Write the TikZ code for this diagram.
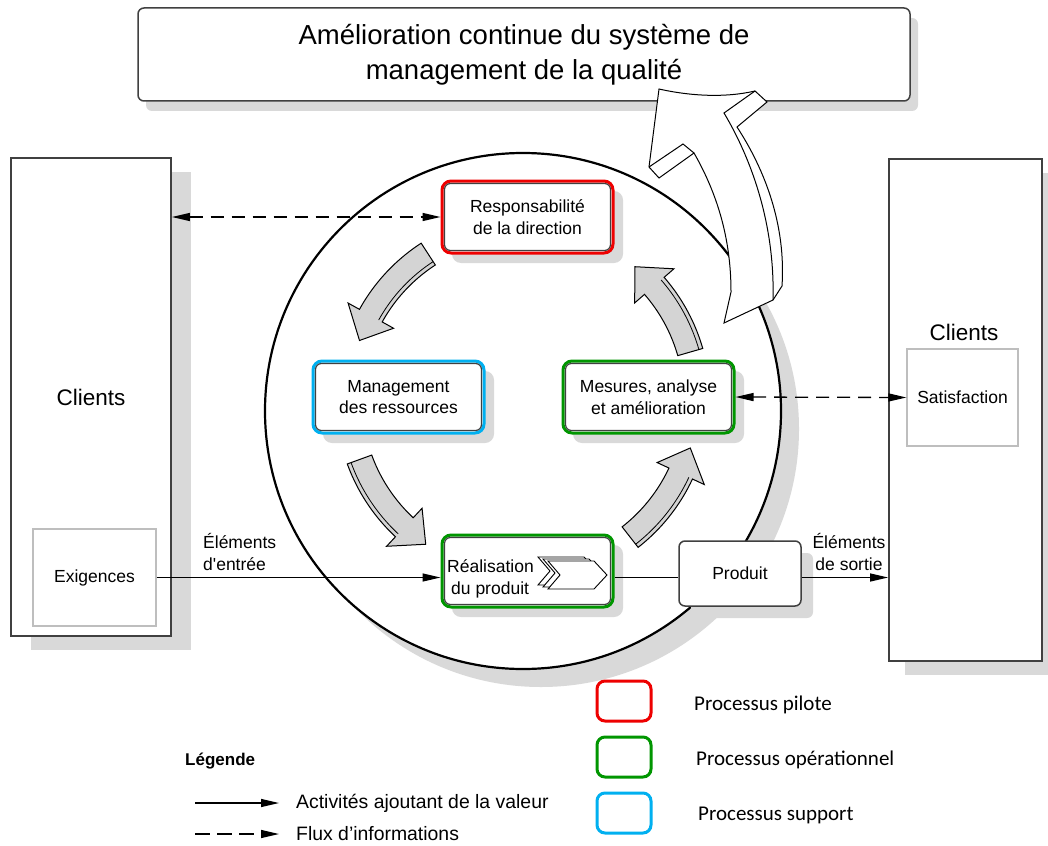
\documentclass[tikz,border=0pt]{standalone}
\usepackage{fontspec}
\setmainfont{Liberation Sans}
\newfontfamily\calfont{Carlito}
\usetikzlibrary{arrows.meta,shadows,calc}
\definecolor{shadowgray}{RGB}{217,217,217}
\definecolor{arrgray}{RGB}{212,212,212}
\definecolor{pred}{RGB}{238,0,0}
\definecolor{pgreen}{RGB}{0,150,0}
\definecolor{pblue}{RGB}{0,176,240}
\definecolor{boxline}{RGB}{64,64,64}
\definecolor{lightline}{RGB}{190,190,190}
\def\ccx{523}\def\ccy{400}
\newcommand\rotarrow[3]{%
  \pgfmathsetmacro\hb{#2-9}%
  \draw[rotarr] plot[domain=#1:\hb,samples=20] ({\ccx+187*cos(\x)},{\ccy-187*sin(\x)})
    -- ({\ccx+200*cos(\hb)},{\ccy-200*sin(\hb)})
    -- ({\ccx+174*cos(#2)},{\ccy-174*sin(#2)})
    -- ({\ccx+148*cos(\hb)},{\ccy-148*sin(\hb)})
    -- plot[domain=#1:\hb,samples=20] ({\ccx+161*cos(#1+\hb-\x)},{\ccy-161*sin(#1+\hb-\x)})
    -- cycle;
  \draw[line width=0.8pt] plot[domain=#1:\hb,samples=20] ({\ccx+#3*cos(\x)},{\ccy-#3*sin(\x)});
}
\begin{document}
\begin{tikzpicture}[x=1pt,y=-1pt,
  nodefont/.style={font=\fontsize{17.5}{21.5}\selectfont},
  shad/.style 2 args={general shadow={fill=shadowgray, shadow xshift=#1pt, shadow yshift=-#2pt}},
  procbox/.style={draw=#1, line width=3pt, rounded corners=9pt, fill=white, minimum width=171pt, minimum height=72pt, align=center, nodefont, inner sep=0pt, shad={10}{10}},
  innerb/.style={draw=boxline, line width=1.2pt, rounded corners=6pt},
  clientbox/.style={draw=boxline, line width=1.8pt, fill=white, inner sep=0pt},
  subbox/.style={draw=lightline, line width=1.2pt, fill=white, inner sep=0pt, nodefont},
  conn/.style={line width=1.3pt},
  tip/.style={-{Triangle[length=18pt,width=8pt]}},
  tips/.style={{Triangle[length=18pt,width=8pt]}-{Triangle[length=18pt,width=8pt]}},
  dashline/.style={dash pattern=on 13pt off 8pt},
  rotarr/.style={fill=arrgray, draw=black, line width=1pt},
  bigarr/.style={fill=white, draw=black, line width=1pt},
  plain/.style={inner sep=0pt},
  legtext/.style={inner sep=0pt, anchor=west, font=\fontsize{19.4}{23}\selectfont},
  proctext/.style={inner sep=0pt, anchor=west, font=\calfont\fontsize{21}{25}\selectfont},
  legbox/.style={draw=#1, line width=3pt, rounded corners=8pt, minimum width=54pt, minimum height=40pt, inner sep=0pt}
]
\useasboundingbox (0,0) rectangle (1048,845);
\fill[white] (0,0) rectangle (1048,845);

% top box
\node[draw=boxline, line width=1.5pt, rounded corners=6pt, fill=white, minimum width=772pt, minimum height=93pt, shad={8}{10}, align=center, font=\fontsize{27.5}{35}\selectfont] (title) at (524,54.5) {Amélioration continue du système de\\management de la qualité};

% clients boxes
\node[clientbox, minimum width=160pt, minimum height=478pt, shad={20}{14}, font=\fontsize{22.5}{27}\selectfont] (cl) at (91,397) {Clients};
\node[subbox, minimum width=123pt, minimum height=97pt] (ex) at (94.5,577.5) {Exigences};
\node[clientbox, minimum width=153pt, minimum height=502pt, shad={16}{14}] (cr) at (965.5,410) {};
\node[plain, font=\fontsize{22.5}{27}\selectfont] (crl) at (964,332) {Clients};
\node[subbox, minimum width=111pt, minimum height=97pt] (sat) at (962.5,397.5) {Satisfaction};

% circle
\fill[shadowgray] (541,429) circle[radius=258pt];
\fill[white] (523,411) circle[radius=258pt];
\draw[line width=2.2pt] (523,411) circle[radius=258pt];

% rotating arrows
\rotarrow{123}{160}{165}
\rotarrow{200}{236}{183}
\rotarrow{308}{344}{183}
\rotarrow{16}{50}{183}

% process boxes
\node[procbox=pred] (resp) at (527.5,217) {Responsabilité\\de la direction};
\node[procbox=pblue] (mgmt) at (398.5,397) {Management\\des ressources};
\node[procbox=pgreen] (mes) at (648.5,397) {Mesures, analyse\\et amélioration};
\node[procbox=pgreen] (real) at (527.5,571) {};
\foreach \n in {resp,mgmt,mes,real}
  \draw[innerb] ([shift={(4,4)}]\n.north west) rectangle ([shift={(-4,-4)}]\n.south east);
\foreach \dx/\dy in {-10/-4,-5/-2,0/0}
  \draw[shift={(\dx,\dy)}, fill=white, line width=0.9pt] (548,561) -- (594,561) -- (607,575) -- (594,589) -- (548,589) -- (560,575) -- cycle;
\node[plain, nodefont, align=left, anchor=west] (realt) at (447,579) {Réalisation\\\hspace*{4pt}du produit};

% produit
\node[draw=boxline, line width=1.5pt, rounded corners=6pt, fill=white, minimum width=122pt, minimum height=65pt, shad={12}{12}, nodefont] (prod) at (740,573.5) {Produit};

% big improvement arrow
\draw[bigarr] (724,323) -- (773,300) -- (782,286) .. controls (786,225) and (765,170) .. (737,127) -- (767,102) -- (755,91) .. controls (725,98) and (690,96) .. (659,89) -- (649,167) -- (659,178) -- (694,153) .. controls (718,195) and (731,240) .. (731,292) -- cycle;
\draw[line width=1pt] (755,91) -- (724,113) .. controls (752,160) and (775,225) .. (773,300);
\draw[line width=1pt] (649,167) -- (683,144) -- (694,153);

% connectors
\draw[conn, dashline, tips] (cl.east |- resp.west) -- (resp.west);
\draw[conn, dashline, tips] (mes.east) -- (sat.west);
\draw[conn, tip] (ex.east) -- (ex.east -| real.west);
\draw[conn] (real.east |- ex.east) -- (prod.west |- ex.east);
\draw[conn, tip] (prod.east |- ex.east) -- (cr.west |- ex.east);
\node[plain, nodefont, align=left, anchor=west] (inlbl) at (203,552) {Éléments\\d\textquotesingle entrée};
\node[plain, nodefont, align=center] (outlbl) at (849,552) {Éléments\\de sortie};

% legend
\node[plain, anchor=west, font=\fontsize{17}{20}\selectfont\bfseries] (leg) at (185,761) {Légende};
\coordinate (la1) at (195,803); \coordinate (la2) at (279,803);
\coordinate (lb1) at (195,834); \coordinate (lb2) at (279,834);
\draw[conn, tip] (la1) -- (la2);
\draw[conn, tip, dash pattern=on 15pt off 7pt] (lb1) -- (lb2);
\node[legtext] (lt1) at (296,803) {Activités ajoutant de la valeur};
\node[legtext] (lt2) at (296,834) {Flux d’informations};

\node[legbox=pred] (lp) at (624,701) {};
\node[legbox=pgreen] (lo) at (624,757) {};
\node[legbox=pblue] (ls) at (624,813) {};
\node[proctext] (tp) at (694,705) {Processus pilote};
\node[proctext] (to) at (696,760) {Processus opérationnel};
\node[proctext] (ts) at (698,815) {Processus support};
\end{tikzpicture}
\end{document}
